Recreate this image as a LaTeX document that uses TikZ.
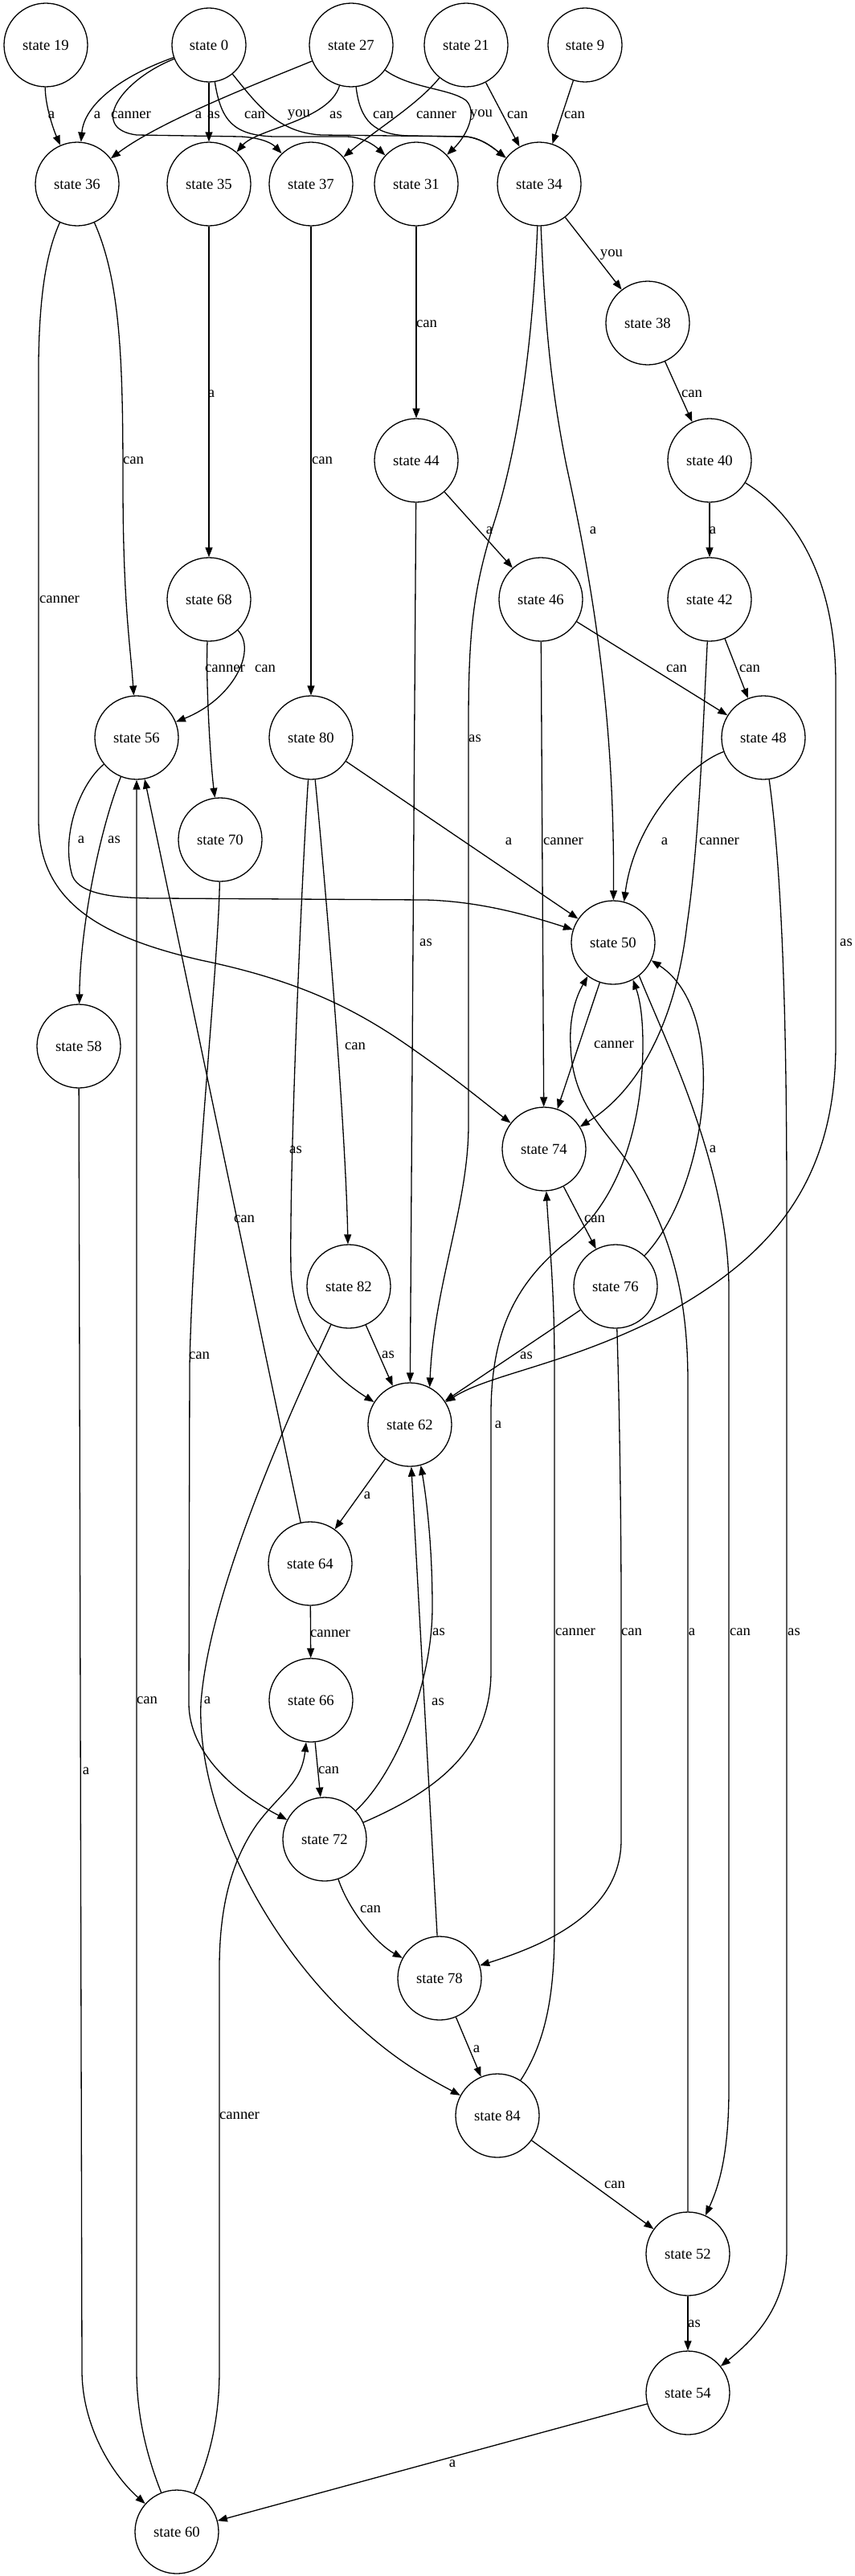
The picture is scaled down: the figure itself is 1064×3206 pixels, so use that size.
\documentclass[tikz,border=0pt]{standalone}
\usepackage{fontspec}
\setmainfont{Liberation Serif}
\usetikzlibrary{arrows.meta}
\begin{document}
\begin{tikzpicture}[x=1pt,y=-1pt,
  st/.style={circle,draw,line width=1.3pt,minimum size=104pt,inner sep=0pt,font=\fontsize{18.7}{22}\selectfont},
  sm/.style={st,minimum size=92pt},
  conn/.style={draw,line width=1.3pt,-{Triangle[length=12pt,width=9pt]}},
  lbl/.style={inner sep=0pt,font=\fontsize{18.7}{22}\selectfont}]
\useasboundingbox (0,0) rectangle (1064,3206);
% nodes
\node[st] (s19) at (57,56) {state 19};
\node[sm] (s0) at (260,56) {state 0};
\node[st] (s27) at (437,56) {state 27};
\node[st] (s21) at (580,56) {state 21};
\node[sm] (s9) at (728,56) {state 9};
\node[st] (s36) at (96,229) {state 36};
\node[st] (s35) at (260,229) {state 35};
\node[st] (s37) at (387,229) {state 37};
\node[st] (s31) at (518,229) {state 31};
\node[st] (s34) at (671,229) {state 34};
\node[st] (s38) at (806,402) {state 38};
\node[st] (s44) at (518,573) {state 44};
\node[st] (s40) at (883,573) {state 40};
\node[st] (s68) at (260,746) {state 68};
\node[st] (s46) at (673,746) {state 46};
\node[st] (s42) at (883,746) {state 42};
\node[st] (s56) at (170,918) {state 56};
\node[st] (s80) at (387,918) {state 80};
\node[st] (s48) at (950,918) {state 48};
\node[st] (s70) at (274,1045) {state 70};
\node[st] (s50) at (763,1173) {state 50};
\node[st] (s58) at (98,1302) {state 58};
\node[st] (s74) at (677,1430) {state 74};
\node[st] (s82) at (434,1601) {state 82};
\node[st] (s76) at (766,1601) {state 76};
\node[st] (s62) at (510,1773) {state 62};
\node[st] (s64) at (386,1946) {state 64};
\node[st] (s66) at (387,2116) {state 66};
\node[st] (s72) at (404,2289) {state 72};
\node[st] (s78) at (547,2462) {state 78};
\node[st] (s84) at (619,2633) {state 84};
\node[st] (s52) at (856,2805) {state 52};
\node[st] (s54) at (856,2978) {state 54};
\node[st] (s60) at (220,3151) {state 60};
% edges
\draw[conn] (s19) .. controls (56,130) and (66,160) .. (s36);
\draw[conn] (s0) .. controls (150,95) and (105,130) .. (s36);
\draw[conn] (s0) .. controls (150,100) and (110,160) .. (170,168) -- (300,170) .. controls (330,172) and (340,180) .. (s37);
\draw[conn] (s27) .. controls (330,100) and (200,150) .. (s36);
\draw[conn] (s0) -- (s35);
\draw[conn] (s0) .. controls (275,150) and (290,168) .. (340,170) -- (430,170) .. controls (450,170) and (465,180) .. (s31);
\draw[conn] (s0) .. controls (320,130) and (345,165) .. (400,168) -- (580,170) .. controls (600,172) and (615,185) .. (s34);
\draw[conn] (s27) .. controls (410,150) and (320,160) .. (s35);
\draw[conn] (s27) .. controls (448,150) and (465,168) .. (510,169) -- (580,170) .. controls (600,172) and (615,185) .. (s34);
\draw[conn] (s21) .. controls (520,130) and (470,160) .. (s37);
\draw[conn] (s27) .. controls (510,110) and (560,110) .. (580,125) .. controls (595,140) and (580,170) .. (s31);
\draw[conn] (s21) -- (s34);
\draw[conn] (s9) -- (s34);
\draw[conn] (s34) -- (s38);
\draw[conn] (s38) -- (s40);
\draw[conn] (s31) -- (s44);
\draw[conn] (s35) -- (s68);
\draw[conn] (s37) -- (s80);
\draw[conn] (s40) -- (s42);
\draw[conn] (s44) -- (s46);
\draw[conn] (s46) -- (s48);
\draw[conn] (s42) -- (s48);
\draw[conn] (s68) .. controls (256,850) and (262,950) .. (s70);
\draw[conn] (s68) .. controls (320,810) and (290,870) .. (s56);
\draw[conn] (s36) .. controls (150,350) and (153,450) .. (153,600) .. controls (153,750) and (162,800) .. (s56);
\draw[conn] (s36) .. controls (55,320) and (49,380) .. (48,450) -- (48,1020) .. controls (48,1120) and (120,1165) .. (250,1195) .. controls (380,1222) and (450,1260) .. (520,1310) .. controls (570,1345) and (600,1370) .. (s74);
\draw[conn] (s34) .. controls (678,400) and (685,480) .. (705,580) .. controls (740,740) and (765,900) .. (s50);
\draw[conn] (s34) .. controls (664,400) and (650,540) .. (615,650) .. controls (590,730) and (583,780) .. (583,900) -- (583,1400) .. controls (583,1500) and (540,1600) .. (s62.62);
\draw[conn] (s44) -- (s62);
\draw[conn] (s40) .. controls (990,640) and (1040,720) .. (1040,850) -- (1040,1300) .. controls (1040,1480) and (950,1570) .. (820,1640) .. controls (700,1700) and (610,1710) .. (s62);
\draw[conn] (s42) .. controls (875,900) and (870,1050) .. (855,1150) .. controls (840,1280) and (790,1360) .. (s74);
\draw[conn] (s46) -- (s74);
\draw[conn] (s48) .. controls (860,950) and (790,1020) .. (s50.75);
\draw[conn] (s80) -- (s50);
\draw[conn] (s56) .. controls (100,975) and (75,1040) .. (90,1090) .. controls (100,1115) and (150,1118) .. (200,1118) -- (530,1120) .. controls (600,1122) and (660,1140) .. (s50);
\draw[conn] (s56) .. controls (125,1030) and (100,1150) .. (s58);
\draw[conn] (s60) .. controls (180,3050) and (170,3000) .. (170,2950) -- (s56);
\draw[conn] (s64.103) -- (s56.-79);
\draw[conn] (s58) -- (102,2950) .. controls (102,3020) and (140,3080) .. (s60);
\draw[conn] (s70) .. controls (272,1200) and (240,1500) .. (236,1700) -- (235,2120) .. controls (235,2180) and (290,2230) .. (s72);
\draw[conn] (s82) .. controls (360,1760) and (260,1980) .. (250,2120) .. controls (245,2250) and (330,2420) .. (450,2525) .. controls (500,2570) and (540,2590) .. (s84);
\draw[conn] (s80) .. controls (375,1100) and (360,1450) .. (362,1580) .. controls (365,1660) and (410,1710) .. (s62);
\draw[conn] (s80) .. controls (405,1100) and (430,1400) .. (s82);
\draw[conn] (s82) -- (s62);
\draw[conn] (s76) -- (s62);
\draw[conn] (s74) -- (s76);
\draw[conn] (s50) -- (s74);
\draw[conn] (s76) .. controls (880,1480) and (910,1260) .. (s50.-25);
\draw[conn] (s72) .. controls (540,2230) and (611,2180) .. (611,2080) -- (611,1760) .. controls (611,1660) and (640,1600) .. (700,1550) .. controls (770,1500) and (800,1400) .. (800,1300) .. controls (800,1260) and (795,1240) .. (s50.-62);
\draw[conn] (s52) -- (856,1720) .. controls (856,1600) and (830,1530) .. (790,1460) .. controls (760,1410) and (712,1380) .. (710,1300) .. controls (708,1260) and (720,1235) .. (s50.-127);
\draw[conn] (s50.-52) .. controls (830,1300) and (905,1450) .. (907,1600) -- (907,2600) .. controls (907,2680) and (895,2720) .. (s52);
\draw[conn] (s48) .. controls (975,1100) and (979,1300) .. (979,1500) -- (979,2800) .. controls (979,2870) and (940,2910) .. (s54);
\draw[conn] (s76) .. controls (771,1750) and (773,1900) .. (773,2000) -- (773,2290) .. controls (773,2380) and (680,2420) .. (s78);
\draw[conn] (s84) .. controls (680,2540) and (690,2480) .. (690,2400) -- (690,1700) .. controls (690,1600) and (683,1540) .. (s74);
\draw[conn] (s62) -- (s64);
\draw[conn] (s64) -- (s66);
\draw[conn] (s66) -- (s72);
\draw[conn] (s72) .. controls (490,2210) and (538,2100) .. (538,2000) .. controls (538,1920) and (530,1860) .. (s62.-75);
\draw[conn] (s78) -- (s62.-88);
\draw[conn] (s72) .. controls (435,2380) and (470,2420) .. (s78);
\draw[conn] (s78) -- (s84);
\draw[conn] (s60) .. controls (265,3050) and (273,3000) .. (273,2950) -- (273,2450) .. controls (273,2380) and (285,2320) .. (320,2270) .. controls (350,2230) and (375,2220) .. (s66);
\draw[conn] (s84) -- (s52);
\draw[conn] (s52) -- (s54);
\draw[conn] (s54) -- (s60);
% labels
\node[lbl] (l1) at (64,143) {a};
\node[lbl] (l2) at (121,143) {a};
\node[lbl] (l3) at (163,143) {canner};
\node[lbl] (l4) at (247,143) {a};
\node[lbl] (l5) at (266,143) {as};
\node[lbl] (l6) at (317,143) {can};
\node[lbl] (l7) at (372,143) {you};
\node[lbl] (l8) at (418,143) {as};
\node[lbl] (l9) at (477,143) {can};
\node[lbl] (l10) at (543,143) {canner};
\node[lbl] (l11) at (599,143) {you};
\node[lbl] (l12) at (644,143) {can};
\node[lbl] (l13) at (715,143) {can};
\node[lbl] (l14) at (761,317) {you};
\node[lbl] (l15) at (861,490) {can};
\node[lbl] (l16) at (531,403) {can};
\node[lbl] (l17) at (263,490) {a};
\node[lbl] (l18) at (166,573) {can};
\node[lbl] (l19) at (401,573) {can};
\node[lbl] (l20) at (74,746) {canner};
\node[lbl] (l21) at (609,660) {a};
\node[lbl] (l22) at (738,660) {a};
\node[lbl] (l23) at (887,660) {a};
\node[lbl] (l24) at (280,832) {canner};
\node[lbl] (l25) at (330,832) {can};
\node[lbl] (l26) at (842,832) {can};
\node[lbl] (l27) at (933,832) {can};
\node[lbl] (l28) at (591,919) {as};
\node[lbl] (l29) at (101,1045) {a};
\node[lbl] (l30) at (142,1045) {as};
\node[lbl] (l31) at (633,1047) {a};
\node[lbl] (l32) at (701,1047) {canner};
\node[lbl] (l33) at (827,1047) {a};
\node[lbl] (l34) at (895,1047) {canner};
\node[lbl] (l35) at (530,1173) {as};
\node[lbl] (l36) at (1053,1173) {as};
\node[lbl] (l37) at (764,1300) {canner};
\node[lbl] (l38) at (442,1302) {can};
\node[lbl] (l39) at (368,1431) {as};
\node[lbl] (l40) at (887,1430) {a};
\node[lbl] (l41) at (304,1517) {can};
\node[lbl] (l42) at (740,1517) {can};
\node[lbl] (l43) at (248,1687) {can};
\node[lbl] (l44) at (483,1686) {as};
\node[lbl] (l45) at (655,1687) {as};
\node[lbl] (l46) at (620,1773) {a};
\node[lbl] (l47) at (457,1861) {a};
\node[lbl] (l48) at (411,2033) {canner};
\node[lbl] (l49) at (546,2031) {as};
\node[lbl] (l50) at (716,2031) {canner};
\node[lbl] (l51) at (786,2031) {can};
\node[lbl] (l52) at (861,2031) {a};
\node[lbl] (l53) at (921,2031) {can};
\node[lbl] (l54) at (988,2031) {as};
\node[lbl] (l55) at (183,2116) {can};
\node[lbl] (l56) at (258,2116) {a};
\node[lbl] (l57) at (545,2118) {as};
\node[lbl] (l58) at (107,2204) {a};
\node[lbl] (l59) at (409,2203) {can};
\node[lbl] (l60) at (461,2376) {can};
\node[lbl] (l61) at (593,2550) {a};
\node[lbl] (l62) at (298,2633) {canner};
\node[lbl] (l63) at (765,2719) {can};
\node[lbl] (l64) at (864,2892) {as};
\node[lbl] (l65) at (563,3066) {a};
\end{tikzpicture}
\end{document}
